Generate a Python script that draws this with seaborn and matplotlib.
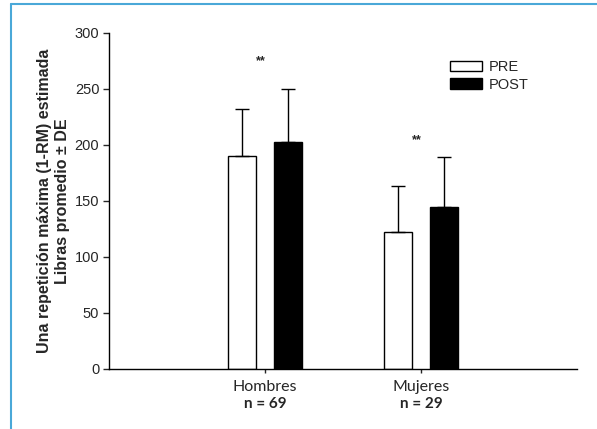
import pandas as pd
import matplotlib.pyplot as plt
import seaborn as sns
from matplotlib.patches import Patch
from matplotlib.lines import Line2D

# Data
groups = ["Hombres", "Mujeres"]
n_labels = ["n = 69", "n = 29"]
pre_mean = [190, 122]
pre_sd = [42, 41]
post_mean = [203, 145]
post_sd = [47, 44]
star_y = [275, 204]

df = pd.DataFrame({
    "grupo": groups * 2,
    "momento": ["PRE"] * 2 + ["POST"] * 2,
    "valor": pre_mean + post_mean,
    "de": pre_sd + post_sd,
})

sns.set_style("ticks")
plt.rcParams["font.family"] = ["Liberation Sans", "DejaVu Sans"]

fig = plt.figure(figsize=(5.97, 4.29), dpi=100)
ax = fig.add_axes([109 / 597, 1 - 369 / 429, 468 / 597, 336 / 429])

sns.barplot(data=df, x="grupo", y="valor", hue="momento", order=groups,
            hue_order=["PRE", "POST"], palette=["white", "black"],
            edgecolor="black", linewidth=1, saturation=1,
            width=0.59, gap=0.39, errorbar=None, legend=False, ax=ax)

# upward-only error bars
for patch, sd in zip(ax.patches, df["de"]):
    xc = patch.get_x() + patch.get_width() / 2
    top = patch.get_height()
    ax.errorbar(xc, top, yerr=[[0], [sd]], fmt="none", ecolor="black",
                elinewidth=1, capsize=5, capthick=1)

for i, y in enumerate(star_y):
    ax.text(i - 0.03, y, "**", ha="center", va="center", fontsize=9,
            fontweight="bold")

ax.set_xlim(-1, 2)
ax.set_ylim(0, 300)
ax.set_yticks(range(0, 301, 50))
ax.tick_params(axis="y", length=4, width=1, labelsize=10.5, pad=3)
ax.tick_params(axis="x", length=3, width=1, pad=5)
ax.set_xticks(range(len(groups)))
ax.set_xticklabels(groups, fontsize=11.5, family=["Lato", "DejaVu Sans"])
for i, n in enumerate(n_labels):
    ax.text(i, -0.083, n, transform=ax.get_xaxis_transform(), ha="center",
            va="top", fontsize=11, fontweight="bold",
            family=["Lato", "DejaVu Sans"])
ax.set_xlabel("")
ax.set_ylabel("Una repetición máxima (1-RM) estimada\nLibras promedio ± DE",
              fontsize=11.5, fontweight="bold", labelpad=3, linespacing=1.3)
sns.despine(ax=ax)
for s in ["left", "bottom"]:
    ax.spines[s].set_linewidth(1)
    ax.spines[s].set_color("black")

handles = [Patch(facecolor="white", edgecolor="black", linewidth=1, label="PRE"),
           Patch(facecolor="black", edgecolor="black", linewidth=1, label="POST")]
ax.legend(handles=handles, frameon=False, loc="upper left",
          bbox_to_anchor=(0.728, 0.92), fontsize=10.5, handlelength=2.2,
          handleheight=0.7, handletextpad=0.5, labelspacing=0.25,
          borderpad=0, borderaxespad=0)

# light-blue page frame
fig.add_artist(Line2D([11 / 597, 11 / 597], [0, 1 - 4 / 429],
                      transform=fig.transFigure, color="#4aa8d8", lw=1.5))
fig.add_artist(Line2D([11 / 597, 1], [1 - 4 / 429, 1 - 4 / 429],
                      transform=fig.transFigure, color="#4aa8d8", lw=1.5))

fig.savefig("out.png", dpi=100)
